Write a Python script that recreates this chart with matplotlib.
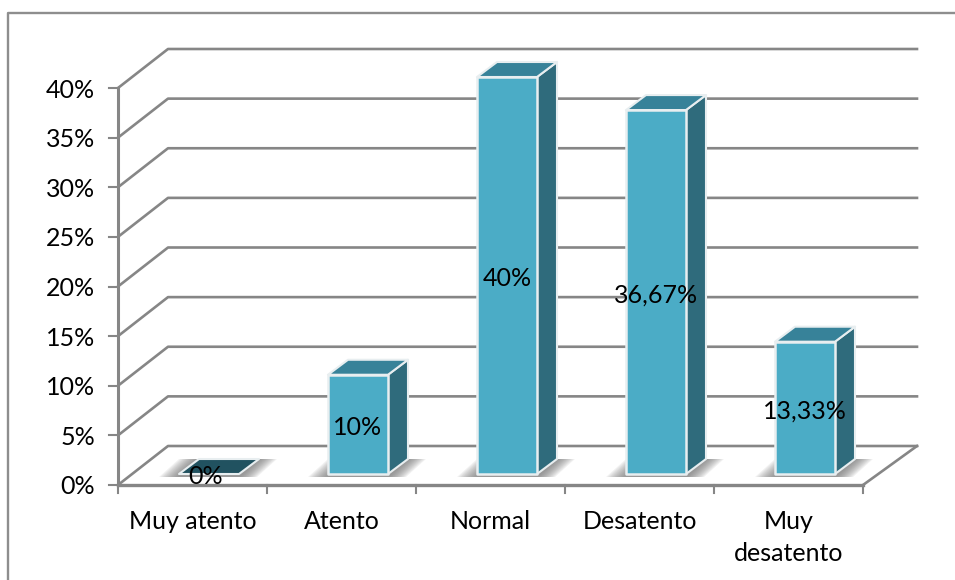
import matplotlib
matplotlib.use("Agg")
import matplotlib.pyplot as plt
from matplotlib.patches import Polygon
from matplotlib.lines import Line2D

categories = ["Muy atento", "Atento", "Normal", "Desatento", "Muy\ndesatento"]
values = [0, 10, 40, 36.67, 13.33]
value_labels = ["0%", "10%", "40%", "36,67%", "13,33%"]
y_ticks = [0, 5, 10, 15, 20, 25, 30, 35, 40]

W, H = 955, 580
GRID = "#868686"
FRONT = "#4BACC6"
TOP = "#378299"
SIDE = "#2F6B7C"
FLAT = "#215260"
EDGE = "#E8EEF0"
FONT_SIZE = 18

plt.rcParams["font.family"] = ["Lato", "DejaVu Sans"]

# pixels per data unit on the front plane
PX_X = 149.0
PX_Y = 397 / 40


def to_data(dx, dy):
    """
        Convert a pixel offset (dy up) to data units
    :param dx: horizontal offset in pixels
    :param dy: vertical offset in pixels
    :return: offset in data units
    """
    return dx / PX_X, dy / PX_Y


def shade(ax, pts, color, z, alpha=1.0, edge="none", lw=0):
    ax.add_patch(Polygon(pts, closed=True, facecolor=color, edgecolor=edge, alpha=alpha,
                         linewidth=lw, zorder=z, clip_on=False, joinstyle="round"))


def draw_walls(ax):
    wx, wy = to_data(50, 39)
    extra = to_data(4, 0)[0]
    n = len(categories)
    for t in y_ticks:
        ax.plot([0, wx, n + wx + extra], [t, t + wy, t + wy], color=GRID, lw=1.9, zorder=1, clip_on=False)
    ax.plot([n, n + wx + extra], [0, wy], color=GRID, lw=1.9, zorder=1, clip_on=False)
    ax.plot([0, n], [0, 0], color=GRID, lw=2.4, zorder=1, clip_on=False)
    ax.plot([0, 0], [0, 40], color=GRID, lw=2.2, zorder=1, clip_on=False)
    tx, ty = to_data(9, 8)
    for t in y_ticks:
        ax.plot([-tx, 0], [t, t], color=GRID, lw=1.5, zorder=1, clip_on=False)
    for i in range(n + 1):
        ax.plot([i, i], [0, -ty], color=GRID, lw=1.5, zorder=1, clip_on=False)


def draw_shadow(ax, x0, x1, base, dx, dy):
    # soft shadow on the floor, stacked transparent shapes get darker near the bar
    steps = 12
    low = to_data(0, 3)[1]
    for k in range(steps):
        left = to_data(20 * (steps - k) / steps, 0)[0]
        right = to_data(18 * (steps - k) / steps, 0)[0]
        shade(ax, [(x0 - left, base - low), (x1 + right, base - low),
                   (x1 + dx + right, base + dy), (x0 + dx - left, base + dy)],
              "#6e6e6e", 2, alpha=0.09)


def draw_bars(ax):
    ox, oy = to_data(16.5, 11)
    half = to_data(30, 0)[0]
    dx, dy = to_data(20, 15)
    for i, v in enumerate(values):
        cx = i + 0.5 + ox
        x0, x1 = cx - half, cx + half
        draw_shadow(ax, x0, x1, oy, dx, dy)
        if v == 0:
            shade(ax, [(x0, oy), (x1, oy), (x1 + dx, oy + dy), (x0 + dx, oy + dy)],
                  FLAT, 3, edge=EDGE, lw=1.5)
            ax.text(cx - to_data(3, 0)[0], oy - to_data(0, 3)[1], value_labels[i],
                    ha="center", va="center", fontsize=FONT_SIZE, color="black", zorder=6)
        else:
            shade(ax, [(x1, oy), (x1 + dx, oy + dy), (x1 + dx, oy + v + dy), (x1, oy + v)],
                  SIDE, 3, edge=EDGE, lw=1.5)
            shade(ax, [(x0, oy + v), (x1, oy + v), (x1 + dx, oy + v + dy), (x0 + dx, oy + v + dy)],
                  TOP, 3, edge=EDGE, lw=1.5)
            shade(ax, [(x0, oy), (x1, oy), (x1, oy + v), (x0, oy + v)],
                  FRONT, 4, edge=EDGE, lw=1.8)
            ax.text(cx, oy + v / 2 - to_data(0, 3)[1], value_labels[i],
                    ha="center", va="center", fontsize=FONT_SIZE, color="black", zorder=6)


fig = plt.figure(figsize=(W / 100, H / 100), dpi=100)
fig.patch.set_facecolor("white")
ax = fig.add_axes([118 / W, 1 - 485 / H, 745 / W, 397 / H])
ax.set_xlim(0, len(categories))
ax.set_ylim(0, 40)
ax.patch.set_visible(False)
for s in ax.spines.values():
    s.set_visible(False)
ax.set_yticks(y_ticks)
ax.set_yticklabels([f"{t}%" for t in y_ticks], fontsize=FONT_SIZE, va="center_baseline")
ax.set_xticks([i + 0.5 for i in range(len(categories))])
ax.set_xticklabels(categories, fontsize=FONT_SIZE, linespacing=1.48, va="top")
ax.tick_params(axis="both", length=0)
ax.tick_params(axis="y", pad=16.5)
ax.tick_params(axis="x", pad=18)

draw_walls(ax)
draw_bars(ax)

# outer chart frame, only top and left are inside the picture
fig.add_artist(Line2D([8 / W, 8 / W, 1], [0, 1 - 13 / H, 1 - 13 / H], transform=fig.transFigure,
                      color="#8E8E8E", linewidth=1.7))

fig.savefig("out.png", dpi=100, facecolor="white")
